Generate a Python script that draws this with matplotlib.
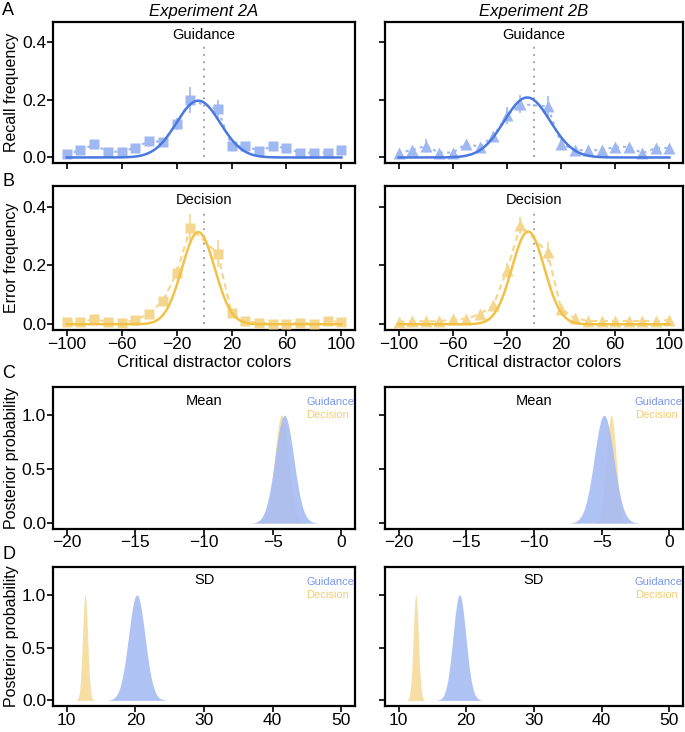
import numpy as np
import matplotlib
matplotlib.use("Agg")
import matplotlib.pyplot as plt

plt.rcParams['font.family'] = ['Liberation Sans', 'DejaVu Sans']

# distractor colour offsets (0 = target, not shown)
dist_x = [-100, -90, -80, -70, -60, -50, -40, -30, -20, -10,
          10, 20, 30, 40, 50, 60, 70, 80, 90, 100]

recall_2a = [0.011, 0.025, 0.045, 0.020, 0.020, 0.034, 0.057, 0.054, 0.117, 0.198,
             0.168, 0.040, 0.040, 0.023, 0.039, 0.033, 0.016, 0.017, 0.017, 0.027]
recall_2a_err = [0.006, 0.005, 0.006, 0.005, 0.005, 0.006, 0.008, 0.012, 0.020, 0.045,
                 0.030, 0.008, 0.008, 0.005, 0.006, 0.006, 0.004, 0.004, 0.004, 0.005]
recall_2b = [0.015, 0.026, 0.040, 0.017, 0.017, 0.048, 0.037, 0.074, 0.146, 0.185,
             0.177, 0.048, 0.025, 0.026, 0.025, 0.037, 0.037, 0.015, 0.033, 0.033]
recall_2b_err = [0.006, 0.008, 0.025, 0.006, 0.006, 0.010, 0.008, 0.015, 0.030, 0.030,
                 0.035, 0.015, 0.006, 0.006, 0.006, 0.008, 0.008, 0.005, 0.006, 0.006]

error_2a = [0.008, 0.008, 0.017, 0.008, 0.005, 0.014, 0.036, 0.079, 0.174, 0.328,
            0.240, 0.038, 0.011, 0.005, 0.002, 0.002, 0.005, 0.002, 0.010, 0.008]
error_2a_err = [0.004, 0.004, 0.005, 0.004, 0.003, 0.005, 0.010, 0.015, 0.020, 0.045,
                0.045, 0.010, 0.004, 0.003, 0.002, 0.002, 0.003, 0.002, 0.004, 0.004]
error_2b = [0.008, 0.010, 0.010, 0.010, 0.017, 0.019, 0.034, 0.064, 0.183, 0.336,
            0.245, 0.053, 0.021, 0.011, 0.011, 0.011, 0.011, 0.011, 0.011, 0.015]
error_2b_err = [0.004, 0.004, 0.004, 0.004, 0.005, 0.005, 0.008, 0.012, 0.025, 0.030,
                0.035, 0.012, 0.006, 0.004, 0.004, 0.004, 0.004, 0.004, 0.004, 0.005]

# gaussian fits: amplitude, mean, sd
fit_guid_2a = (0.197, -4.2, 16.0)
fit_guid_2b = (0.208, -5.0, 17.0)
fit_dec_2a = (0.313, -4.2, 12.0)
fit_dec_2b = (0.315, -4.3, 12.0)

# posterior summaries (centre, spread) for the mean and SD parameters
post_mean_guid = [(-4.15, 0.68), (-4.83, 0.72)]
post_mean_dec = [(-4.36, 0.50), (-4.29, 0.36)]
post_sd_guid = [(20.2, 1.2), (19.0, 0.95)]
post_sd_dec = [(12.67, 0.37), (12.55, 0.38)]

BLUE = '#4a78df'
BLUE_L = '#9fb8f2'
BLUE_F = '#a8bdf4'
BLUE_T = '#7897ee'
YEL = '#f1c245'
YEL_L = '#f5d68e'
YEL_F = '#f6dc9e'
YEL_T = '#f3cd72'

fig = plt.figure(figsize=(6.85, 7.32), dpi=100)

lefts = [0.0774, 0.562]
widths = [0.441, 0.435]
rows = [(0.777, 0.193), (0.549, 0.197), (0.278, 0.193), (0.036, 0.189)]

axes = [[fig.add_axes([lefts[c], rows[r][0], widths[c], rows[r][1]]) for c in range(2)]
        for r in range(4)]


def style(ax):
    for s in ax.spines.values():
        s.set_linewidth(1.6)
    ax.tick_params(direction='out', length=4, width=1.2, labelsize=12.5, pad=1)


def gauss(x, a, m, s):
    return a * np.exp(-0.5 * ((x - m) / s) ** 2)


def freq_panel(ax, y, yerr, fit, marker, light, dark, label, ms, dash):
    xx = np.linspace(-100, 100, 400)
    ax.plot([0, 0], [0, 0.39], ls=(0, (1, 3)), color='#999999', lw=1.3, zorder=1)
    ax.errorbar(dist_x, y, yerr=yerr, fmt='none', ecolor=light, elinewidth=1.2, zorder=2)
    ax.plot(dist_x, y, ls=dash, color=light, lw=1.5, zorder=2)
    ax.plot(dist_x, y, ls='none', marker=marker, ms=ms, color=light, mec='none', zorder=3)
    ax.plot(xx, gauss(xx, *fit), color=dark, lw=1.8, zorder=4)
    ax.set_xlim(-110, 110)
    ax.set_ylim(-0.02, 0.47)
    ax.set_xticks([-100, -60, -20, 20, 60, 100])
    ax.set_xticklabels(['\u2212100', '\u221260', '\u221220', '20', '60', '100'])
    ax.set_yticks([0, 0.2, 0.4])
    ax.set_yticklabels(['0.0', '0.2', '0.4'])
    ax.text(0, 0.905, label, transform=ax.get_xaxis_transform(), ha='center', va='center',
            fontsize=10.5)
    style(ax)


def post_panel(ax, guid, dec, xlim, xticks, xlabels, label, cov):
    xx = np.linspace(xlim[0], xlim[1], 2000)
    for (m, s), col in [(dec, YEL_F), (guid, BLUE_F)]:
        d = np.exp(-0.5 * ((xx - m) / s) ** 2)
        keep = d > cov
        ax.fill_between(xx[keep], 0, d[keep], color=col, lw=0, alpha=0.92)
    ax.set_xlim(*xlim)
    ax.set_ylim(-0.05, 1.26)
    ax.set_xticks(xticks)
    ax.set_xticklabels(xlabels)
    ax.set_yticks([0, 0.5, 1.0])
    ax.set_yticklabels(['0.0', '0.5', '1.0'])
    ax.text(0.5, 0.905, label, transform=ax.transAxes, ha='center', va='center', fontsize=10.5)
    ax.text(0.838, 0.895, 'Guidance', transform=ax.transAxes, ha='left', va='center',
            fontsize=8, color=BLUE_T)
    ax.text(0.838, 0.80, 'Decision', transform=ax.transAxes, ha='left', va='center',
            fontsize=8, color=YEL_T)
    style(ax)


freq_panel(axes[0][0], recall_2a, recall_2a_err, fit_guid_2a, 's', BLUE_L, BLUE, 'Guidance', 7, (0, (1.5, 2)))
freq_panel(axes[0][1], recall_2b, recall_2b_err, fit_guid_2b, '^', BLUE_L, BLUE, 'Guidance', 9, (0, (1.5, 2)))
freq_panel(axes[1][0], error_2a, error_2a_err, fit_dec_2a, 's', YEL_L, YEL, 'Decision', 7, (0, (3, 2)))
freq_panel(axes[1][1], error_2b, error_2b_err, fit_dec_2b, '^', YEL_L, YEL, 'Decision', 9, (0, (3, 2)))

for c in range(2):
    post_panel(axes[2][c], post_mean_guid[c], post_mean_dec[c], (-21, 1),
               [-20, -15, -10, -5, 0], ['\u221220', '\u221215', '\u221210', '\u22125', '0'],
               'Mean', 0.002)
    post_panel(axes[3][c], post_sd_guid[c], post_sd_dec[c], (8, 52),
               [10, 20, 30, 40, 50], ['10', '20', '30', '40', '50'], 'SD', 0.002)

for r in range(4):
    axes[r][1].set_yticklabels([])
for c in range(2):
    axes[0][c].set_xticklabels([])
    axes[1][c].set_xlabel('Critical distractor colors', fontsize=12, labelpad=2)

axes[0][0].set_ylabel('Recall frequency', fontsize=11.5, labelpad=2)
axes[1][0].set_ylabel('Error frequency', fontsize=11.5, labelpad=2)
axes[2][0].set_ylabel('Posterior probability', fontsize=11.5, labelpad=2)
axes[3][0].set_ylabel('Posterior probability', fontsize=11.5, labelpad=2)

axes[0][0].set_title('Experiment 2A', fontsize=12, style='italic', pad=4)
axes[0][1].set_title('Experiment 2B', fontsize=12, style='italic', pad=4)

for letter, yy in zip('ABCD', [0.985, 0.752, 0.490, 0.242]):
    fig.text(0.003, yy, letter, fontsize=13, ha='left', va='center')

fig.savefig('out.png', dpi=100)
